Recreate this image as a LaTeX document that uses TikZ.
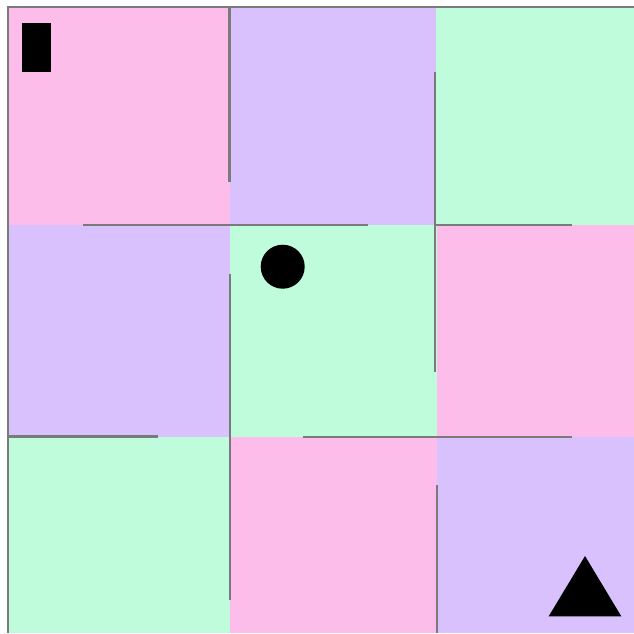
\documentclass[tikz,border=0pt]{standalone}
\usepackage{tikz}
\usetikzlibrary{shapes.geometric}
\definecolor{cellpink}{RGB}{253,189,234}
\definecolor{celllilac}{RGB}{216,193,252}
\definecolor{cellmint}{RGB}{190,252,220}
\definecolor{wallgray}{RGB}{122,122,122}
\newcommand{\mazecell}[5]{%
  \fill[#5] (#1,#2) rectangle (#3,#4);%
}
\tikzset{wall/.style={draw=wallgray,line width=1.9pt}}

\begin{document}
\begin{tikzpicture}[x=0.03cm,y=-0.03cm]
  \useasboundingbox (0,0) rectangle (634,633);
  \fill[white] (0,0) rectangle (634,633);
  % cells, row by row
  \mazecell{8}{7}{230}{225}{cellpink}
  \mazecell{230}{7}{436}{225}{celllilac}
  \mazecell{436}{7}{634}{225}{cellmint}
  \mazecell{8}{225}{230}{437}{celllilac}
  \mazecell{230}{225}{437}{437}{cellmint}
  \mazecell{437}{225}{634}{437}{cellpink}
  \mazecell{8}{437}{230}{633}{cellmint}
  \mazecell{230}{437}{437}{633}{cellpink}
  \mazecell{437}{437}{634}{633}{celllilac}
  % walls
  \draw[wall] (8,633) -- (8,7) -- (634,7);
  \draw[wall] (229.5,7) -- (229.5,182);
  \draw[wall] (83,225) -- (368,225);
  \draw[wall] (435,72) -- (435,372);
  \draw[wall] (435,225) -- (572,225);
  \draw[wall] (230,274) -- (230,600);
  \draw[wall] (8,436.5) -- (158,436.5);
  \draw[wall] (303,437) -- (572,437);
  \draw[wall] (437,485) -- (437,633);
  % markers
  \node[fill=black,inner sep=0,minimum width=0.88cm,minimum height=1.47cm] (start) at (36.5,47.5) {};
  \node[circle,fill=black,inner sep=0,minimum size=1.32cm] (ball) at (282.7,266.7) {};
  \coordinate (goaltop) at (585,556);
  \fill[black] (goaltop) -- (621.3,616.3) -- (548.7,616.3) -- cycle;
\end{tikzpicture}
\end{document}
